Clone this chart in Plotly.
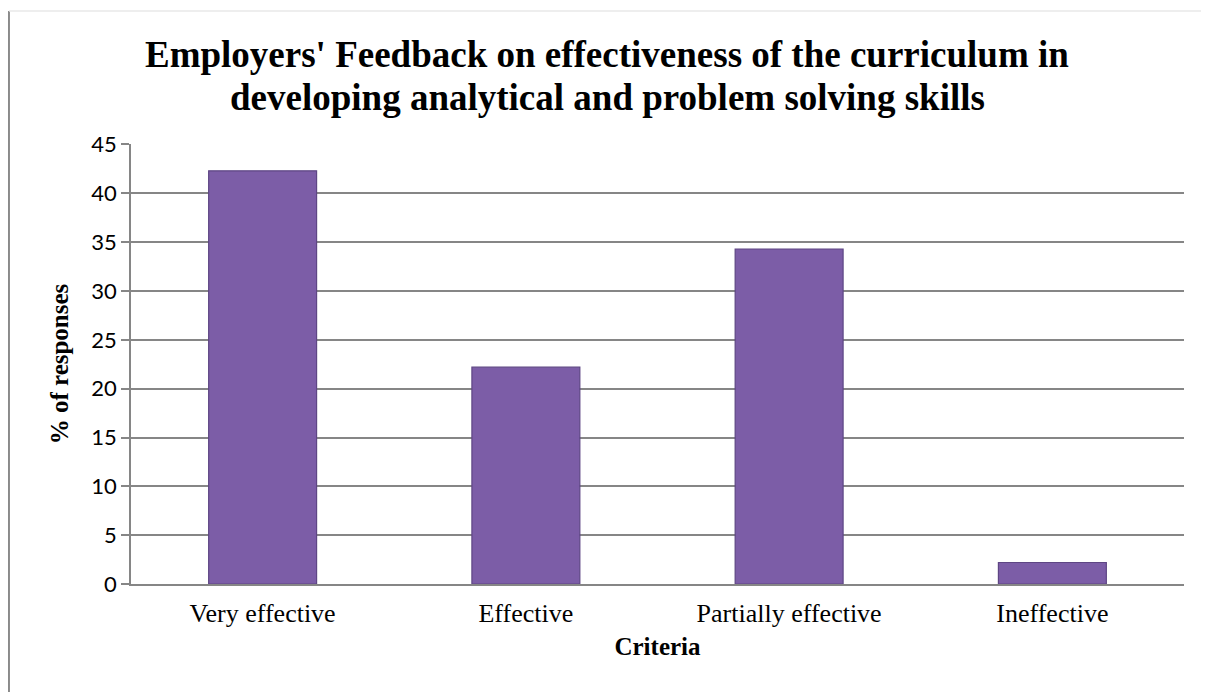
import plotly.graph_objects as go

categories = ["Very effective", "Effective", "Partially effective", "Ineffective"]
values = [42.3, 22.2, 34.3, 2.2]
y_ticks = [0, 5, 10, 15, 20, 25, 30, 35, 40, 45]
title_lines = ["Employers' Feedback on effectiveness of the curriculum in",
               "developing analytical and problem solving skills"]

fig = go.Figure()
fig.add_trace(go.Bar(
    x=categories, y=values,
    marker=dict(color="#7C5DA7", line=dict(color="#5E4684", width=1.2)),
    width=0.41,
    hoverinfo="x+y",
))

serif = "Liberation Serif"
fig.update_layout(
    width=1193, height=684,
    paper_bgcolor="white", plot_bgcolor="white",
    margin=dict(l=123, r=17, t=136, b=108),
    showlegend=False,
    xaxis=dict(
        showline=True, linecolor="#868686", linewidth=2,
        showgrid=False, ticks="",
        ticklabelstandoff=5,
        tickfont=dict(family=serif, size=26, color="black"),
        title=dict(text="<b>Criteria</b>", standoff=10,
                   font=dict(family=serif, size=25, color="black")),
    ),
    yaxis=dict(
        range=[0, 45.05], tickvals=y_ticks,
        showline=True, linecolor="#868686", linewidth=1.5,
        showgrid=True, gridcolor="#868686", gridwidth=1.5,
        ticks="outside", ticklen=8, tickcolor="#868686", tickwidth=1.5,
        tickfont=dict(family="Lato", size=22, color="black"),
        zeroline=False,
        title=dict(text="<b>% of responses</b>", standoff=16,
                   font=dict(family=serif, size=25, color="black")),
    ),
)

for text, ypos in zip(title_lines, [1.2023, 1.1068]):
    fig.add_annotation(
        text="<b>" + text + "</b>", xref="paper", yref="paper",
        x=0.4525, y=ypos, xanchor="center", yanchor="middle",
        showarrow=False,
        font=dict(family=serif, size=37, color="black"),
    )

# outer chart frame (left edge and faint top edge)
fig.add_shape(type="line", xref="paper", yref="paper",
              x0=-0.1159, x1=-0.1159, y0=-0.3, y1=1.3023,
              line=dict(color="#8a8a8a", width=2))
fig.add_shape(type="line", xref="paper", yref="paper",
              x0=-0.1159, x1=1.1, y0=1.3023, y1=1.3023,
              line=dict(color="#e8e8e8", width=1.5))

fig.write_html("out.html")
